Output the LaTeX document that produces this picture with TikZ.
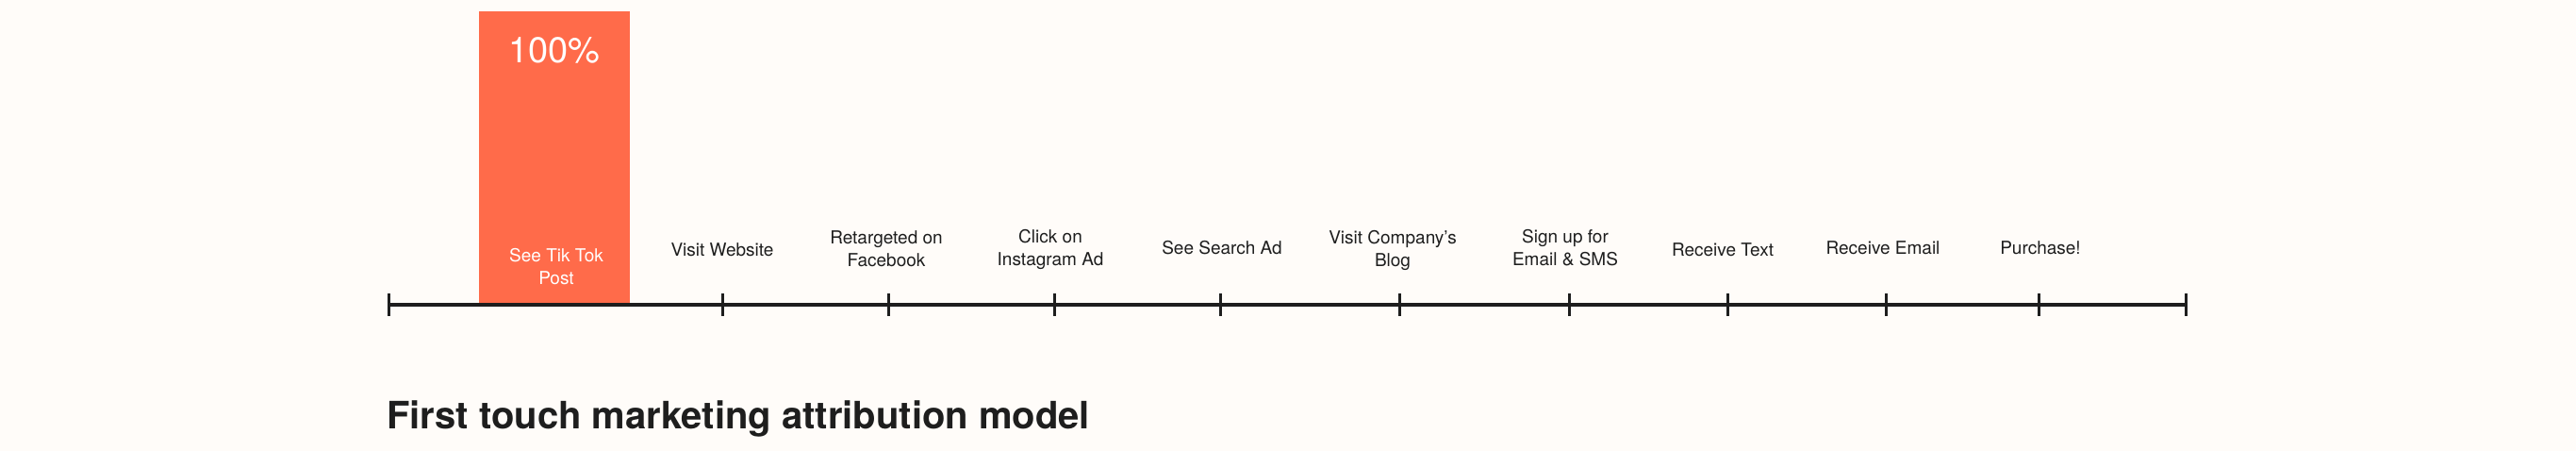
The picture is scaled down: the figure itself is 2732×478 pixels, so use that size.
\documentclass[tikz,border=0pt]{standalone}
\usepackage{fontspec}
\setmainfont{TeX Gyre Heros}
\definecolor{bg}{HTML}{FFFCF9}
\definecolor{bar}{HTML}{FF6B4A}
\definecolor{ink}{HTML}{1E1E1E}
\begin{document}
\begin{tikzpicture}[x=1pt,y=-1pt,
  lbl/.style={text=ink,font=\fontsize{19}{24}\selectfont,align=center,inner sep=0pt},
  tick/.style={draw=ink,line width=3.5pt}]
\fill[bg] (0,0) rectangle (2732,478);
\useasboundingbox (0,0) rectangle (2732,478);
\fill[bar] (508,12) rectangle (668,323);
\node[text=white,font=\fontsize{38}{40}\selectfont] (pct) at (588,53) {100\%};
\node[lbl,text=white] (l0) at (590,283) {See Tik Tok\\Post};
\coordinate (a0) at (412,323);
\coordinate (a1) at (2318,323);
\draw[tick] (a0) -- (a1);
\foreach \x in {412,766,942,1118,1294,1484,1664,1832,2000,2162,2318}
  \draw[tick,line width=3pt] (\x,311) -- (\x,335);
\node[lbl] (l1) at (766,265) {Visit Website};
\node[lbl] (l2) at (940,264) {Retargeted on\\Facebook};
\node[lbl] (l3) at (1114,264) {Click on\\Instagram Ad};
\node[lbl] (l4) at (1296,263) {See Search Ad};
\node[lbl] (l5) at (1477,265) {Visit Company’s\\Blog};
\node[lbl] (l6) at (1660,263) {Sign up for\\Email \& SMS};
\node[lbl] (l7) at (1827,265) {Receive Text};
\node[lbl] (l8) at (1997,263) {Receive Email};
\node[lbl] (l9) at (2164,263) {Purchase!};
\node[anchor=west,text=ink,inner sep=0pt,font=\fontsize{40}{44}\selectfont\bfseries] (title) at (410,444) {First touch marketing attribution model};
\end{tikzpicture}
\end{document}
